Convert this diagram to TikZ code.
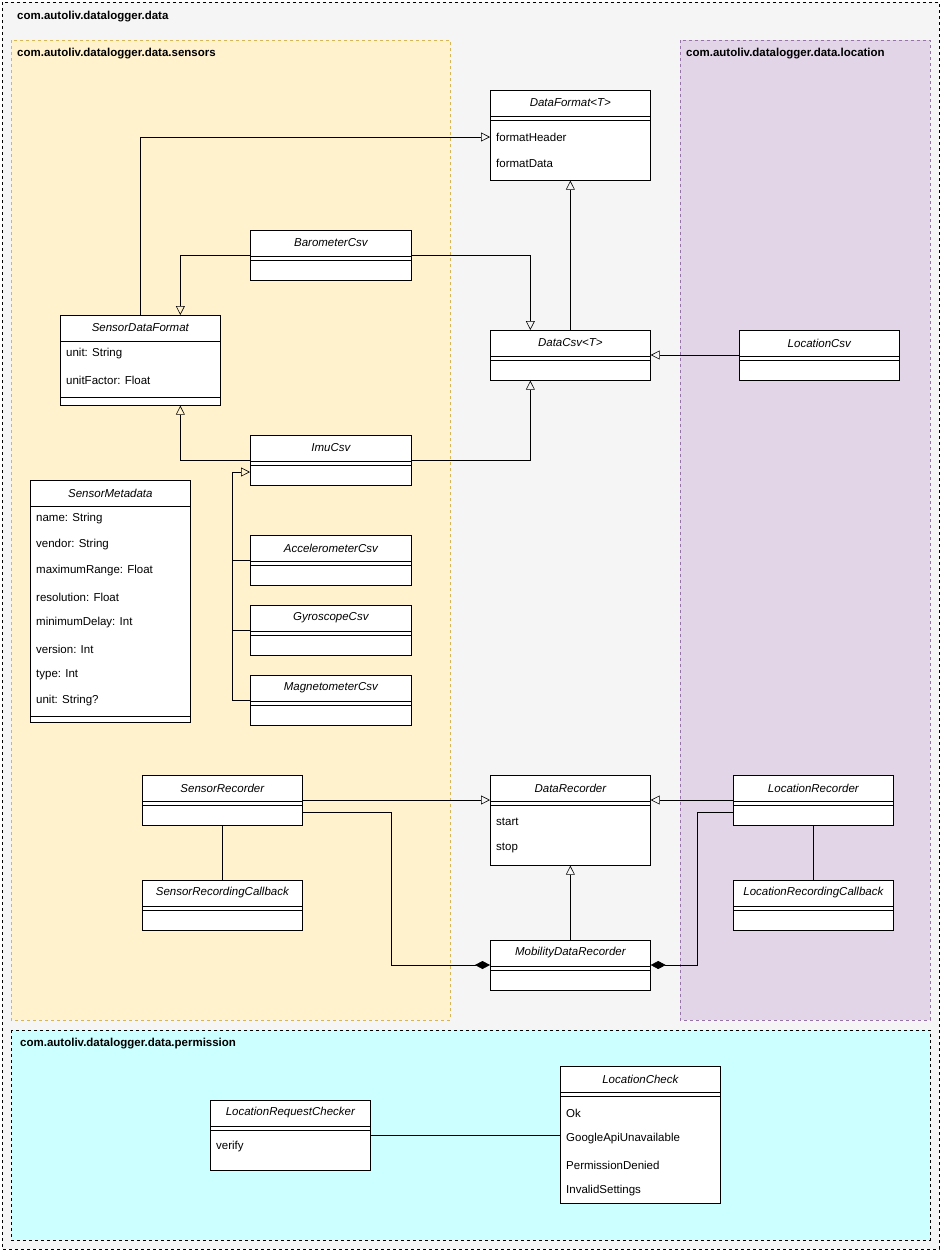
\documentclass[tikz,border=0pt]{standalone}
\usepackage{fontspec}
\setmainfont{Liberation Sans}
\usetikzlibrary{arrows.meta,calc}

\definecolor{outerfill}{HTML}{F5F5F5}
\definecolor{sensfill}{HTML}{FFF2CC}
\definecolor{sensline}{HTML}{D6B656}
\definecolor{locfill}{HTML}{E1D5E7}
\definecolor{locline}{HTML}{9673A6}
\definecolor{permfill}{HTML}{CCFFFF}

\tikzset{
  pkg/.style={dashed,line width=0.5pt},
  pkglabel/.style={anchor=west,inner sep=0pt,font=\fontsize{11.5}{13}\selectfont\bfseries},
  cls/.style={draw,fill=white,rectangle,inner sep=0pt,line width=0.7pt},
  clstitle/.style={inner sep=0pt,font=\fontsize{11.5}{13}\selectfont\itshape},
  attr/.style={anchor=west,inner sep=0pt,font=\fontsize{11.5}{13}\selectfont},
  gen/.style={-{Triangle[open,length=9pt,width=9pt]},line width=0.6pt},
  comp/.style={{Diamond[length=15pt,width=8pt]}-,line width=0.6pt},
  assoc/.style={line width=0.6pt}
}

% name, x, y, width, height, title, divider offset
\newcommand{\umlclass}[7]{%
  \node[cls,minimum width=#4pt,minimum height=#5pt,anchor=north west] (#1) at (#2,#3) {};
  \node[clstitle] at ($(#1.north)+(0,-13)$) {#6};
  \draw[line width=0.7pt] ($(#1.north west)+(0,-26)$) -- ++(#4,0);
  \draw[line width=0.7pt] ($(#1.north west)+(0,-#7)$) -- ++(#4,0);
}
% class, offset, text
\newcommand{\umlattr}[3]{\node[attr] at ($(#1.north west)+(6,{-(#2)})$) {#3};}

\begin{document}
\begin{tikzpicture}[x=1pt,y=1pt]
  \useasboundingbox (0,0) rectangle (941,-1251);

  % packages
  \draw[pkg,fill=outerfill] (2,-2) rectangle (939,-1249);
  \node[pkglabel] at (17,-17) {com.autoliv.datalogger.data};
  \draw[pkg,draw=sensline,fill=sensfill] (11,-40) rectangle (450,-1020);
  \node[pkglabel] at (17,-54) {com.autoliv.datalogger.data.sensors};
  \draw[pkg,draw=locline,fill=locfill] (680,-40) rectangle (930,-1020);
  \node[pkglabel] at (686,-54) {com.autoliv.datalogger.data.location};
  \draw[pkg,fill=permfill] (11,-1030) rectangle (930,-1240);
  \node[pkglabel] at (20,-1044) {com.autoliv.datalogger.data.permission};

  % classes
  \umlclass{dataformat}{490}{-90}{160}{90}{DataFormat<T>}{30}
  \umlattr{dataformat}{47}{formatHeader}
  \umlattr{dataformat}{73}{formatData}
  \umlclass{barometer}{250}{-230}{161}{50}{BarometerCsv}{30}
  \umlclass{sensordataformat}{60}{-315}{160}{90}{SensorDataFormat}{82}
  \umlattr{sensordataformat}{39}{unit: String}
  \umlattr{sensordataformat}{65}{unitFactor: Float}
  \umlclass{datacsv}{490}{-330}{160}{50}{DataCsv<T>}{30}
  \umlclass{locationcsv}{739}{-330}{160}{50}{LocationCsv}{30}
  \umlclass{imu}{250}{-435}{161}{50}{ImuCsv}{30}
  \umlclass{metadata}{30}{-480}{160}{242}{SensorMetadata}{236}
  \foreach \t [count=\i from 0] in {name: String,vendor: String,maximumRange: Float,resolution: Float,minimumDelay: Int,version: Int,type: Int,unit: String?}
    {\umlattr{metadata}{39+26*\i}{\t}}
  \umlclass{accel}{250}{-535}{161}{50}{AccelerometerCsv}{30}
  \umlclass{gyro}{250}{-605}{161}{50}{GyroscopeCsv}{30}
  \umlclass{magneto}{250}{-675}{161}{50}{MagnetometerCsv}{30}
  \umlclass{sensorrec}{142}{-775}{160}{50}{SensorRecorder}{30}
  \umlclass{datarec}{490}{-775}{160}{90}{DataRecorder}{30}
  \umlattr{datarec}{47}{start}
  \umlattr{datarec}{73}{stop}
  \umlclass{locationrec}{733}{-775}{160}{50}{LocationRecorder}{30}
  \umlclass{sensorcb}{142}{-880}{160}{50}{SensorRecordingCallback}{30}
  \umlclass{locationcb}{733}{-880}{160}{50}{LocationRecordingCallback}{30}
  \umlclass{mobility}{490}{-940}{160}{50}{MobilityDataRecorder}{30}
  \umlclass{checker}{210}{-1100}{160}{70}{LocationRequestChecker}{30}
  \umlattr{checker}{47}{verify}
  \umlclass{check}{560}{-1066}{160}{137}{LocationCheck}{30}
  \umlattr{check}{47}{Ok}
  \umlattr{check}{73}{GoogleApiUnavailable}
  \umlattr{check}{99}{PermissionDenied}
  \umlattr{check}{125}{InvalidSettings}

  % generalizations
  \draw[gen] ($(sensordataformat.north)$) |- ($(dataformat.north west)+(0,-47)$);
  \draw[gen] ($(barometer.north west)+(0,-25)$) -| ($(sensordataformat.north)+(40,0)$);
  \draw[gen] ($(barometer.north east)+(0,-25)$) -| ($(datacsv.north)+(-40,0)$);
  \draw[gen] (datacsv.north) -- (dataformat.south);
  \draw[gen] ($(locationcsv.north west)+(0,-25)$) -- ($(datacsv.north east)+(0,-25)$);
  \draw[gen] ($(imu.north west)+(0,-25)$) -| ($(sensordataformat.south)+(40,0)$);
  \draw[gen] ($(imu.north east)+(0,-25)$) -| ($(datacsv.south)+(-40,0)$);
  \draw[assoc] (accel.west) -- ++(-18,0);
  \draw[assoc] (gyro.west) -- ++(-18,0);
  \draw[gen] (magneto.west) -- ++(-18,0) |- ($(imu.north west)+(0,-37)$);
  \draw[gen] ($(sensorrec.north east)+(0,-25)$) -- ($(datarec.north west)+(0,-25)$);
  \draw[gen] ($(locationrec.north west)+(0,-25)$) -- ($(datarec.north east)+(0,-25)$);
  \draw[gen] (mobility.north) -- (datarec.south);

  % associations
  \draw[assoc] (sensorrec.south) -- (sensorcb.north);
  \draw[assoc] (locationrec.south) -- (locationcb.north);
  \draw[assoc] ($(checker.north east)+(0,-35)$) -- ($(check.north west)+(0,-69)$);

  % compositions
  \draw[comp] ($(mobility.north west)+(0,-25)$) -- ++(-99,0) |- ($(sensorrec.north east)+(0,-37)$);
  \draw[comp] ($(mobility.north east)+(0,-25)$) -- ++(47,0) |- ($(locationrec.north west)+(0,-37)$);
\end{tikzpicture}
\end{document}
